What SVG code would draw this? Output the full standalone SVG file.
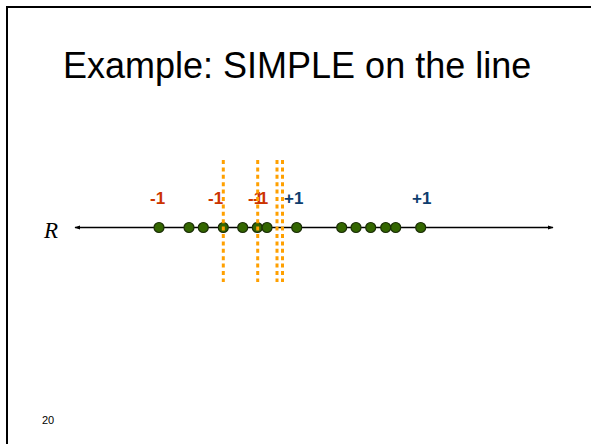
<svg xmlns="http://www.w3.org/2000/svg" width="591" height="444" viewBox="0 0 591 444">
<style>
.neg{font-family:"Liberation Sans",Arial,sans-serif;font-weight:bold;font-size:17px;fill:#CC3300}
.pos{font-family:"Liberation Sans",Arial,sans-serif;font-weight:bold;font-size:17px;fill:#0E3D6E}
.pt{fill:#336600;stroke:#1A2E05;stroke-width:1.2}
.thr{stroke:#FFA000;stroke-width:3;stroke-dasharray:4 3.4;fill:none}
</style>
<defs>
<marker id="ah" viewBox="0 0 10 10" refX="9" refY="5" markerWidth="6" markerHeight="6" orient="auto-start-reverse" markerUnits="userSpaceOnUse">
<path d="M0,1.5 L10,5 L0,8.5 Z" fill="#000"/>
</marker>
</defs>
<rect x="0" y="0" width="591" height="444" fill="#fff"/>
<rect x="7" y="7" width="600" height="460" fill="none" stroke="#000" stroke-width="2"/>
<text x="63" y="78" font-family="Liberation Sans,Arial,sans-serif" font-size="36" fill="#000">Example: SIMPLE on the line</text>
<text x="42" y="424" font-family="Liberation Sans,Arial,sans-serif" font-size="11" fill="#000">20</text>
<text x="44" y="238" font-family="Liberation Serif,serif" font-style="italic" font-size="23" fill="#000">R</text>
<g id="connectors">
<line x1="75" y1="227.5" x2="553" y2="227.5" stroke="#000" stroke-width="1.3" marker-start="url(#ah)" marker-end="url(#ah)"/>
</g>
<g id="points">
<circle class="pt" cx="159" cy="227.5" r="5"/>
<circle class="pt" cx="189" cy="227.5" r="5"/>
<circle class="pt" cx="203.3" cy="227.5" r="5"/>
<circle class="pt" cx="223.3" cy="227.5" r="5"/>
<circle class="pt" cx="242.7" cy="227.5" r="5"/>
<circle class="pt" cx="257.3" cy="227.5" r="5"/>
<circle class="pt" cx="267" cy="227.5" r="5"/>
<circle class="pt" cx="296.7" cy="227.5" r="5"/>
<circle class="pt" cx="341.7" cy="227.5" r="5"/>
<circle class="pt" cx="356" cy="227.5" r="5"/>
<circle class="pt" cx="370.7" cy="227.5" r="5"/>
<circle class="pt" cx="385.7" cy="227.5" r="5"/>
<circle class="pt" cx="395.7" cy="227.5" r="5"/>
<circle class="pt" cx="420.7" cy="227.5" r="5"/>
</g>
<g id="labels">
<text class="neg" x="150" y="204">-1</text>
<text class="neg" x="208" y="204">-1</text>
<text class="neg" x="248" y="204">-1</text>
<text class="neg" x="253" y="204">-1</text>
<text class="pos" x="284" y="204">+1</text>
<text class="pos" x="412" y="204">+1</text>
</g>
<g id="thresholds">
<line class="thr" x1="223.3" y1="160" x2="223.3" y2="282"/>
<line class="thr" x1="257.7" y1="160" x2="257.7" y2="282"/>
<line class="thr" x1="277" y1="160" x2="277" y2="282"/>
<line class="thr" x1="282.5" y1="160" x2="282.5" y2="282"/>
</g>
</svg>
